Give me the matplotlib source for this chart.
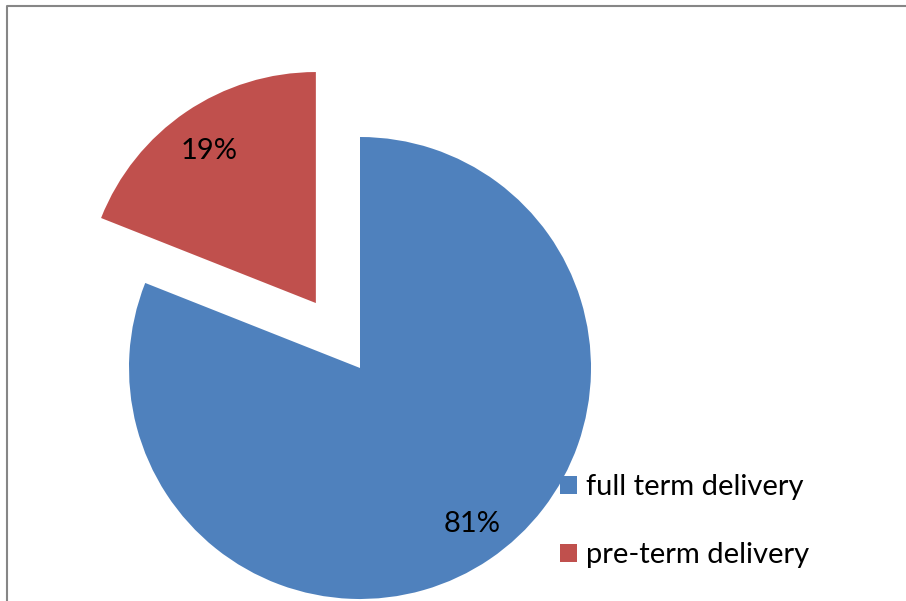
import matplotlib.pyplot as plt
from matplotlib.patches import Patch
from matplotlib.lines import Line2D

# Daten
labels = ["full term delivery", "pre-term delivery"]
values = [81, 19]
colors = ["#4F81BD", "#C0504D"]

plt.rcParams['font.family'] = ['Lato', 'DejaVu Sans']

W, H = 906, 601
R = 231  # Radius in Pixel
fig = plt.figure(figsize=(W / 100, H / 100), dpi=100)
ax = fig.add_axes([0, 0, 1, 1])

# explode wird in Dateneinheiten gerechnet (Pixel)
explode = [0, 0.34 * R]

# Kreisdiagramm (Pixelkoordinaten, y nach oben)
wedges, texts, autotexts = ax.pie(
    values, colors=colors, explode=explode, startangle=90, counterclock=False,
    center=(360, H - 368), radius=R, autopct='%1.0f%%', pctdistance=0.82,
    textprops={'fontsize': 21, 'color': 'black'}, frame=True)
ax.set_xlim(0, W)
ax.set_ylim(0, H)
ax.set_aspect('equal')
ax.axis('off')

# Prozentwerte etwas verschieben
x, y = autotexts[0].get_position()
autotexts[0].set_position((x + 6, y + 1))
x, y = autotexts[1].get_position()
autotexts[1].set_position((x, y - 5))

# Rahmen (oben und links)
fig.lines.append(Line2D([7 / W, 7 / W, 1.0], [0, 1 - 6 / H, 1 - 6 / H],
                        transform=fig.transFigure, color="#868686", lw=1.5))

# Legende
handles = [Patch(facecolor=c, edgecolor='none') for c in colors]
fig.legend(handles, labels, loc='upper left',
           bbox_to_anchor=(560 / W, 1 - 474 / H), frameon=False,
           fontsize=21, handlelength=0.58, handleheight=0.58,
           handletextpad=0.3, labelspacing=1.45, borderpad=0,
           borderaxespad=0)

fig.savefig("out.png", dpi=100)
